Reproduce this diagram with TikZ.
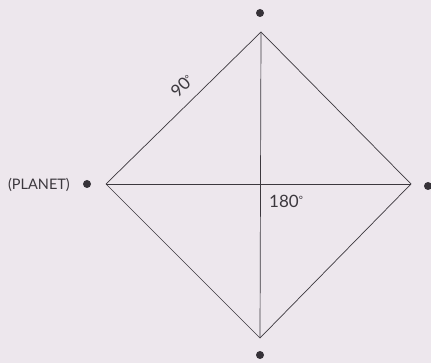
\documentclass[tikz,border=0pt]{standalone}
\usepackage{fontspec}
\setmainfont{Lato}
\definecolor{bg}{RGB}{237,231,237}
\definecolor{ink}{RGB}{60,56,62}
\newcommand{\degsym}{{\fontsize{10}{10}\selectfont\raisebox{3.5pt}{\textdegree}}}
\begin{document}
\begin{tikzpicture}[x=1pt,y=-1pt,
  edge/.style={draw=ink,line width=0.7pt},
  dotmark/.style={circle,fill=ink!90!black,inner sep=0pt,minimum size=8pt},
  lbl/.style={text=ink,inner sep=0pt}]
\fill[bg] (0,0) rectangle (431,363);
\useasboundingbox (0,0) rectangle (431,363);
\coordinate (T) at (261,32);
\coordinate (B) at (260,338);
\coordinate (L) at (106,184);
\coordinate (R) at (411,184);
\node[dotmark] (dT) at (260,13) {};
\node[dotmark] (dB) at (260,355) {};
\node[dotmark] (dL) at (87,184) {};
\node[dotmark] (dR) at (428,186) {};
\draw[edge] (T) -- (R) -- (B) -- (L) -- cycle;
\draw[edge] (T) -- (B);
\draw[edge] (L) -- (R);
\node[lbl,font=\fontsize{14.5}{16}\selectfont,anchor=east] (planet) at (70,185) {(PLANET)};
\node[lbl,font=\fontsize{17}{19}\selectfont,rotate=45] (n90) at (182,86) {90\degsym};
\node[lbl,font=\fontsize{17}{19}\selectfont,anchor=west] (n180) at (269,201) {180\degsym};
\end{tikzpicture}
\end{document}
